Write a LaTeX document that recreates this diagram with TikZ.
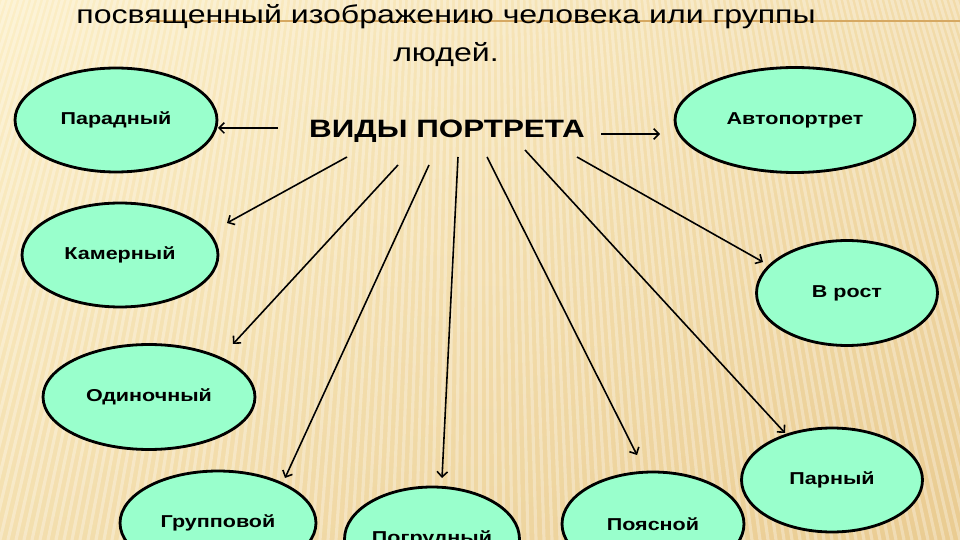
\documentclass[tikz,border=0pt]{standalone}
\usepackage{fontspec}
\setmainfont[FakeStretch=1.25]{Liberation Sans}
\usetikzlibrary{shapes.geometric,arrows.meta}

\definecolor{mint}{RGB}{153,255,204}
\definecolor{paper}{RGB}{252,239,199}
\definecolor{sand}{RGB}{234,204,146}
\definecolor{rulebrown}{RGB}{214,168,98}

\tikzset{
  kind/.style={ellipse, draw=black, line width=1.6pt, fill=mint, inner sep=0pt,
    font=\fontsize{9.8}{11}\selectfont\bfseries},
  arr/.style={-{Straight Barb[length=3pt,width=6pt]}, line width=0.9pt},
}

\begin{document}
\begin{tikzpicture}[x=0.02cm,y=-0.02cm]
\useasboundingbox (0,0) rectangle (960,540);
\clip (0,0) rectangle (960,540);

% we draw the paper
\shade[left color=paper, right color=sand] (0,0) rectangle (960,540);
\shade[top color=paper, bottom color=sand, opacity=0.45] (0,0) rectangle (960,540);
\foreach \i in {-90,...,90}
  \draw[white, opacity=0.3, line width=1.8pt] ({480+\i*8},540) -- (480,-1500);
\draw[rulebrown, line width=1.2pt] (150,21) -- (960,21);

% the heading lines
\node (lead1) [font=\fontsize{14.6}{17}\selectfont, anchor=base] at (446,24)
  {посвященный изображению человека или группы};
\node (lead2) [font=\fontsize{14.6}{17}\selectfont, anchor=base] at (446,62) {людей.};

% the title
\node (title) [font=\fontsize{14.3}{16}\selectfont\bfseries, anchor=base] at (447,138)
  {ВИДЫ ПОРТРЕТА};

% the kinds
\node[kind, minimum width=4.04cm, minimum height=2.08cm] (par) at (116,120) {\raisebox{-2pt}{Парадный}};
\node[kind, minimum width=4.8cm, minimum height=2.1cm] (avto) at (795,120) {\raisebox{-2pt}{Автопортрет}};
\node[kind, minimum width=3.92cm, minimum height=2.08cm] (kam) at (120,255) {\raisebox{-2pt}{Камерный}};
\node[kind, minimum width=3.62cm, minimum height=2.1cm] (vrost) at (847,293) {\raisebox{-2pt}{В рост}};
\node[kind, minimum width=4.24cm, minimum height=2.1cm] (odin) at (149,397) {\raisebox{-2pt}{Одиночный}};
\node[kind, minimum width=3.92cm, minimum height=2.08cm] (grup) at (218,523) {Групповой};
\node[kind, minimum width=3.5cm, minimum height=2.08cm] (pogr) at (432,539) {Погрудный};
\node[kind, minimum width=3.64cm, minimum height=2.08cm] (poyas) at (653,524) {Поясной};
\node[kind, minimum width=3.62cm, minimum height=2.08cm] (parn) at (832,480) {Парный};

% where the arrows leave the title
\coordinate (t-par) at (278,128);
\coordinate (t-avto) at (601,134);
\coordinate (t-kam) at (347,157);
\coordinate (t-odin) at (398,165);
\coordinate (t-grup) at (429,165);
\coordinate (t-pogr) at (458,157);
\coordinate (t-poyas) at (487,157);
\coordinate (t-parn) at (525,150);
\coordinate (t-vrost) at (577,157);

% and where they stop
\coordinate (par-in) at (218,128);
\coordinate (avto-in) at (660,134);
\coordinate (kam-in) at (227,223);
\coordinate (odin-in) at (233,344);
\coordinate (grup-in) at (285,478);
\coordinate (pogr-in) at (442,478);
\coordinate (poyas-in) at (637,455);
\coordinate (parn-in) at (785,433);
\coordinate (vrost-in) at (763,262);

% we add the arrows
\foreach \k in {par,avto,kam,odin,grup,pogr,poyas,parn,vrost}
  \draw[arr] (t-\k) -- (\k-in);

\end{tikzpicture}
\end{document}
